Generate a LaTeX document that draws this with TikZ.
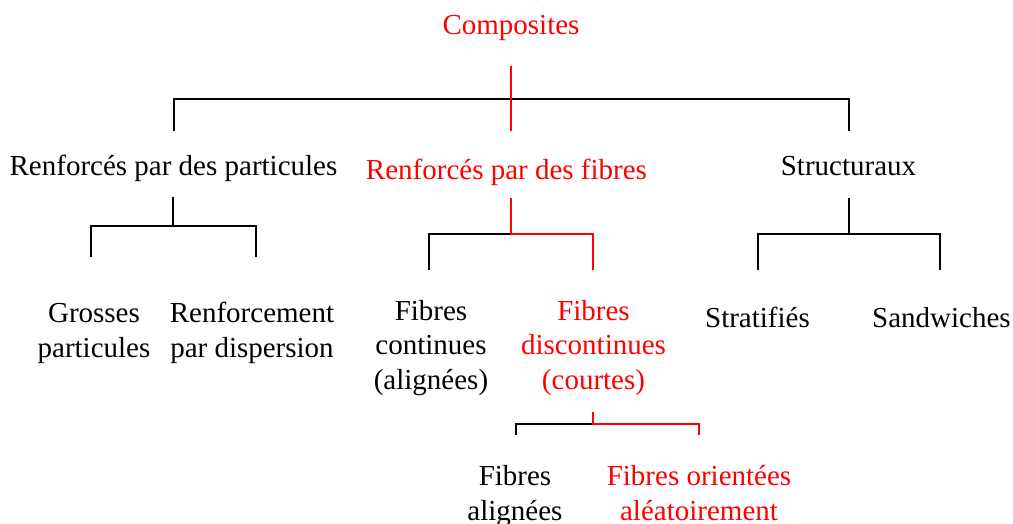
\documentclass[tikz,border=0pt]{standalone}
\usepackage{fontspec}
\setmainfont{Liberation Serif}
\usetikzlibrary{positioning}
\begin{document}
\begin{tikzpicture}[x=1pt,y=-1pt,
    lbl/.style={font=\fontsize{29}{34.5}\selectfont,align=center,inner sep=0pt,anchor=base},
    hot/.style={text=red},
    link/.style={line width=1.5pt},
    hotlink/.style={link,draw=red}]
    \useasboundingbox (0,0) rectangle (1013,524);
    % labels (placed at the baseline of their last line)
    \node[lbl,hot] (comp) at (511,35) {Composites};
    \node[lbl] (part) at (173.5,176) {Renforcés par des particules};
    \node[lbl,hot] (fib) at (506.5,180) {Renforcés par des fibres};
    \node[lbl] (struc) at (848.5,176) {Structuraux};
    \node[lbl] (gros) at (94,357) {Grosses\\particules};
    \node[lbl] (disp) at (252,357) {Renforcement\\par dispersion};
    \node[lbl] (cont) at (431,389) {Fibres\\continues\\(alignées)};
    \node[lbl,hot] (disc) at (593.5,389) {Fibres\\discontinues\\(courtes)};
    \node[lbl] (strat) at (757.5,327) {Stratifiés};
    \node[lbl] (sand) at (941.5,327) {Sandwiches};
    \node[lbl] (alig) at (515,520) {Fibres\\alignées};
    \node[lbl,hot] (alea) at (699,520) {Fibres orientées\\aléatoirement};
    % stems, bars and legs
    \coordinate (comp-s) at (511,66);   \coordinate (comp-j) at (511,99);
    \coordinate (part-t) at (174,131);  \coordinate (fib-t) at (511,131);
    \coordinate (struc-t) at (849,131);
    \coordinate (part-s) at (173,197);  \coordinate (part-j) at (173,226);
    \coordinate (gros-t) at (91,257);   \coordinate (disp-t) at (256,257);
    \coordinate (fib-s) at (511,198);   \coordinate (fib-j) at (511,234);
    \coordinate (cont-t) at (429,270);  \coordinate (disc-t) at (593,270);
    \coordinate (struc-s) at (849,198); \coordinate (struc-j) at (849,234);
    \coordinate (strat-t) at (758,270); \coordinate (sand-t) at (940,270);
    \coordinate (disc-s) at (593,412);  \coordinate (disc-j) at (593,424);
    \coordinate (alig-t) at (516,435);  \coordinate (alea-t) at (699,435);
    \foreach \p/\c in {comp/part,comp/struc,part/gros,part/disp,fib/cont,struc/strat,struc/sand,disc/alig}
        \draw[link] (\p-s) -- (\p-j) -| (\c-t);
    \foreach \p/\c in {comp/fib,fib/disc,disc/alea}
        \draw[hotlink] (\p-s) -- (\p-j) -| (\c-t);
\end{tikzpicture}
\end{document}
